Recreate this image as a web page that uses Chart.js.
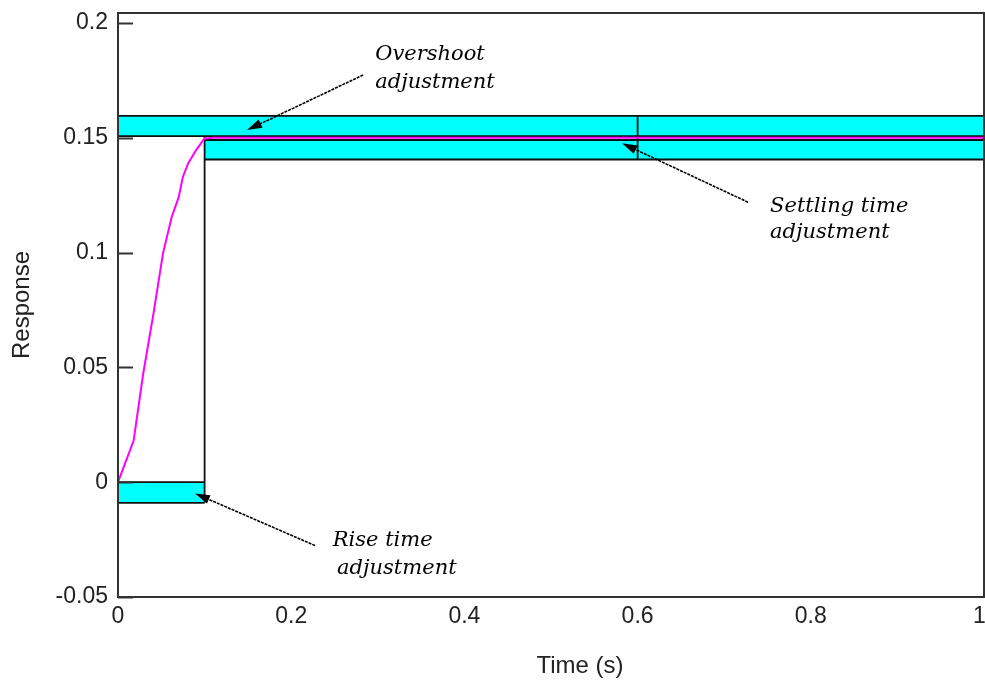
<!DOCTYPE html>
<html>
<head>
<meta charset="utf-8">
<style>
  html, body { margin: 0; padding: 0; background: #fff; }
  #chart { display: block; }
</style>
<script src="https://cdn.jsdelivr.net/npm/chart.js@4.4.1/dist/chart.umd.min.js"></script>
</head>
<body>
<canvas id="chart" width="985" height="685"></canvas>
<script>
// step response
const timeS = [0, 0.018, 0.029, 0.041, 0.052, 0.062, 0.07, 0.075, 0.081, 0.09, 0.097, 0.1, 0.11, 1];
const response = [0, 0.018, 0.047, 0.0735, 0.0997, 0.1155, 0.124, 0.133, 0.1388, 0.1445, 0.1482, 0.1497, 0.15, 0.15];

// constraint bands [low, high] and their x range
const overshootBand = [0.1507, 0.1595];
const overshootSpan = [0, 1];
const settlingBand = [0.1405, 0.149];
const settlingSpan = [0.1, 1];
const riseBand = [-0.009, 0];
const riseSpan = [0, 0.1];
const riseTime = 0.1;
const settlingTime = 0.6;

const xTicks = [0, 0.2, 0.4, 0.6, 0.8, 1];
const yTicks = [-0.05, 0, 0.05, 0.1, 0.15, 0.2];

// notes and arrows, in data units
const noteText = ['Overshoot', 'adjustment', 'Settling time', 'adjustment', 'Rise time', 'adjustment'];
const noteX = [0.297, 0.297, 0.753, 0.753, 0.248, 0.253];
const noteY = [0.1837, 0.1716, 0.1176, 0.1062, -0.0276, -0.0398];
const arrowFrom = [[0.283, 0.1773], [0.7275, 0.1219], [0.2275, -0.0276]];
const arrowTo = [[0.149, 0.1533], [0.582, 0.1476], [0.0889, -0.0049]];

const CYAN = '#00ffff';
const LINE = '#111';
const SANS = '"Liberation Sans", Arial, sans-serif';

const seg = (xs, y) => xs.map(x => ({ x, y }));
const lineSet = (data, extra) => Object.assign({
    data,
    showLine: true,
    borderColor: LINE,
    borderWidth: 1.8,
    pointRadius: 0,
    fill: false,
    tension: 0
}, extra || {});

// Ticks internos, moldura, título do eixo x e anotações
const decorations = {
    id: 'decorations',
    afterDatasetsDraw(chart) {
        const { ctx, chartArea: a, scales: { x, y } } = chart;
        ctx.save();
        ctx.strokeStyle = '#333';
        ctx.lineWidth = 2;
        yTicks.forEach(v => {
            const py = Math.round(y.getPixelForValue(v)) + 0.5;
            ctx.beginPath();
            ctx.moveTo(a.left, py);
            ctx.lineTo(a.left + 15, py);
            ctx.stroke();
        });
        ctx.strokeRect(a.left, a.top, a.right - a.left, a.bottom - a.top);

        // x title
        ctx.fillStyle = '#222';
        ctx.font = '24px ' + SANS;
        ctx.textAlign = 'center';
        ctx.textBaseline = 'middle';
        ctx.fillText('Time (s)', 580, 666);

        // notes
        ctx.font = 'italic 21px "DejaVu Serif", serif';
        ctx.textAlign = 'left';
        ctx.textBaseline = 'alphabetic';
        ctx.fillStyle = '#000';
        noteText.forEach((t, i) => {
            ctx.fillText(t, x.getPixelForValue(noteX[i]), y.getPixelForValue(noteY[i]));
        });

        // arrows
        arrowFrom.forEach((f, i) => {
            const x0 = x.getPixelForValue(f[0]), y0 = y.getPixelForValue(f[1]);
            const x1 = x.getPixelForValue(arrowTo[i][0]), y1 = y.getPixelForValue(arrowTo[i][1]);
            const ang = Math.atan2(y1 - y0, x1 - x0);
            const len = 15, half = 4.5;
            ctx.strokeStyle = '#000';
            ctx.lineWidth = 1.6;
            ctx.setLineDash([3, 1]);
            ctx.beginPath();
            ctx.moveTo(x0, y0);
            ctx.lineTo(x1 - Math.cos(ang) * len * 0.8, y1 - Math.sin(ang) * len * 0.8);
            ctx.stroke();
            ctx.setLineDash([]);
            const bx = x1 - Math.cos(ang) * len, by = y1 - Math.sin(ang) * len;
            ctx.fillStyle = '#000';
            ctx.beginPath();
            ctx.moveTo(x1, y1);
            ctx.lineTo(bx - Math.sin(ang) * half, by + Math.cos(ang) * half);
            ctx.lineTo(bx + Math.sin(ang) * half, by - Math.cos(ang) * half);
            ctx.closePath();
            ctx.fill();
        });
        ctx.restore();
    }
};

const tickFmt = v => String(+Number(v).toFixed(2));

new Chart(document.getElementById('chart'), {
    type: 'scatter',
    data: {
        datasets: [
            lineSet(timeS.map((t, i) => ({ x: t, y: response[i] })), { borderColor: '#ff00ff', borderWidth: 2 }),
            lineSet(seg(overshootSpan, overshootBand[1]), { fill: '+1', backgroundColor: CYAN }),
            lineSet(seg(overshootSpan, overshootBand[0])),
            lineSet(seg(settlingSpan, settlingBand[1]), { fill: '+1', backgroundColor: CYAN }),
            lineSet(seg(settlingSpan, settlingBand[0])),
            lineSet(seg(riseSpan, riseBand[1]), { fill: '+1', backgroundColor: CYAN }),
            lineSet(seg(riseSpan, riseBand[0])),
            lineSet([{ x: riseTime, y: overshootBand[0] }, { x: riseTime, y: riseBand[0] }]),
            lineSet([{ x: settlingTime, y: overshootBand[1] }, { x: settlingTime, y: settlingBand[0] }])
        ]
    },
    options: {
        responsive: false,
        animation: false,
        devicePixelRatio: 1,
        layout: { padding: { top: 13, right: 1, left: 0, bottom: 0 } },
        plugins: {
            legend: { display: false },
            tooltip: { enabled: false },
            filler: { drawTime: 'beforeDatasetsDraw' }
        },
        scales: {
            x: {
                type: 'linear',
                min: 0,
                max: 1,
                afterBuildTicks: s => { s.ticks = xTicks.map(v => ({ value: v })); },
                afterFit: s => { s.height = 88; s.paddingLeft = 0; s.paddingRight = 0; },
                grid: { display: false, drawTicks: false },
                border: { display: false },
                ticks: {
                    padding: 6,
                    color: '#222',
                    maxRotation: 0,
                    font: { family: SANS, size: 23 },
                    // keep the last label inside the canvas
                    callback: v => v === 1 ? '1\u2009\u2009' : tickFmt(v)
                }
            },
            y: {
                type: 'linear',
                min: -0.05,
                max: 0.2043,
                afterBuildTicks: s => { s.ticks = yTicks.map(v => ({ value: v })); },
                afterFit: s => { s.width = 118; s.paddingTop = 0; s.paddingBottom = 0; },
                grid: { display: false, drawTicks: false },
                border: { display: false },
                title: {
                    display: true,
                    text: 'Response',
                    color: '#222',
                    padding: { top: 8, bottom: 0 },
                    font: { family: SANS, size: 24 }
                },
                ticks: {
                    padding: 10,
                    color: '#222',
                    font: { family: SANS, size: 23 },
                    callback: tickFmt
                }
            }
        }
    },
    plugins: [decorations]
});
</script>
</body>
</html>
